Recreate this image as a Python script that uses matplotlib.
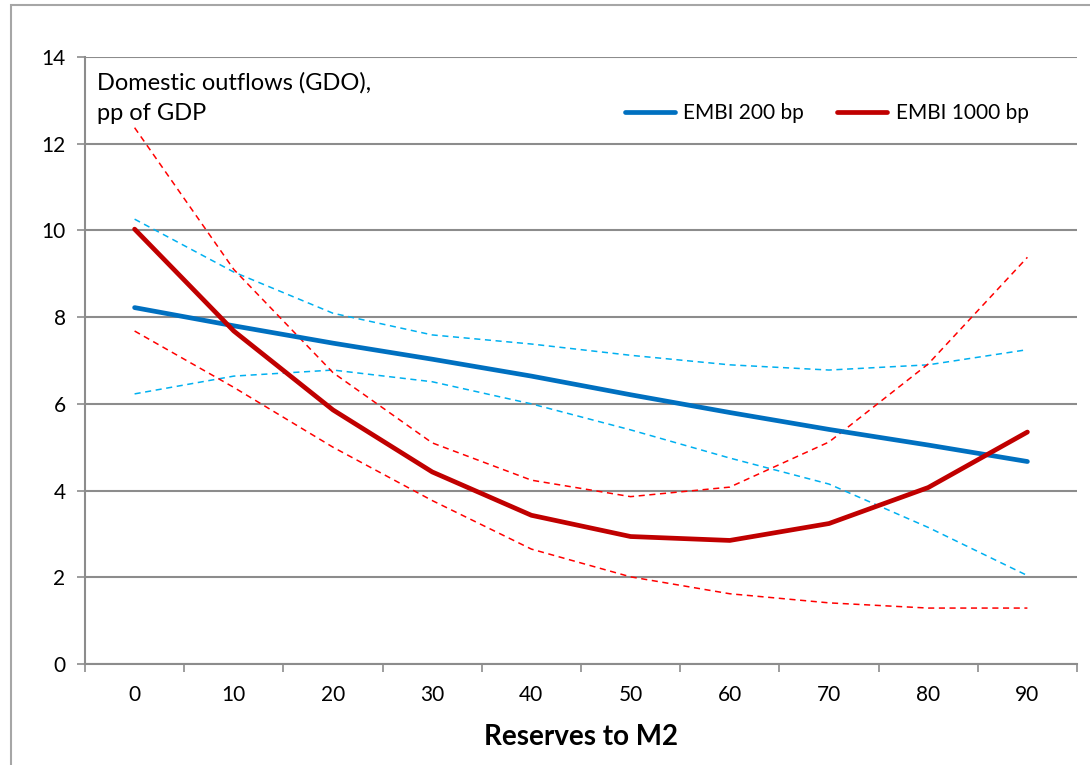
import numpy as np
import matplotlib.pyplot as plt
from matplotlib.patches import Rectangle

# Data
reserves = [0, 10, 20, 30, 40, 50, 60, 70, 80, 90]
embi200 = [8.22, 7.80, 7.40, 7.03, 6.64, 6.21, 5.80, 5.41, 5.05, 4.67]
embi200_hi = [10.26, 9.04, 8.09, 7.59, 7.38, 7.12, 6.90, 6.78, 6.90, 7.25]
embi200_lo = [6.23, 6.64, 6.78, 6.51, 6.00, 5.40, 4.75, 4.15, 3.15, 2.04]
embi1000 = [10.03, 7.68, 5.86, 4.43, 3.43, 2.94, 2.85, 3.24, 4.07, 5.35]
embi1000_hi = [12.37, 9.10, 6.72, 5.10, 4.24, 3.86, 4.08, 5.12, 6.92, 9.38]
embi1000_lo = [7.68, 6.38, 5.00, 3.77, 2.65, 2.01, 1.62, 1.41, 1.29, 1.29]

plt.rcParams['font.family'] = ['Lato', 'DejaVu Sans']

fig = plt.figure(figsize=(10.9, 7.65), dpi=100)
ax = fig.add_axes([85 / 1090, 1 - 664 / 765, (1077 - 85) / 1090, (664 - 57) / 765])

# outer chart border
fig.patches.append(Rectangle((11 / 1090, -0.1), 1.2, 1 - 5 / 765 + 0.1, transform=fig.transFigure,
                             fill=False, edgecolor='#a6a6a6', lw=1.5))

x = np.arange(len(reserves))

ax.plot(x, embi200_hi, color='#00B0F0', lw=1.1, ls=(0, (4, 3)))
ax.plot(x, embi200_lo, color='#00B0F0', lw=1.1, ls=(0, (4, 3)))
ax.plot(x, embi1000_hi, color='#FF0000', lw=1.1, ls=(0, (4, 3)))
ax.plot(x, embi1000_lo, color='#FF0000', lw=1.1, ls=(0, (4, 3)))
ax.plot(x, embi200, color='#0070C0', lw=3.4, solid_capstyle='round', label='EMBI 200 bp')
ax.plot(x, embi1000, color='#C00000', lw=3.4, solid_capstyle='round', label='EMBI 1000 bp')

ax.set_xlim(-0.5, len(reserves) - 0.5)
ax.set_ylim(0, 14)
ax.set_yticks(np.arange(0, 15, 2))
ax.set_xticks(x)
ax.set_xticklabels([str(r) for r in reserves])
ax.set_xticks(np.arange(-0.5, len(reserves)), minor=True)
ax.tick_params(axis='x', which='major', length=0, pad=15, labelsize=15)
ax.tick_params(axis='x', which='minor', length=6, color='#8c8c8c', width=1.2)
ax.tick_params(axis='y', length=6, color='#8c8c8c', width=1.2, labelsize=15, pad=8)

ax.grid(axis='y', color='#8c8c8c', lw=1.5)
ax.set_axisbelow(True)
for s in ['top', 'right']:
    ax.spines[s].set_visible(False)
for s in ['left', 'bottom']:
    ax.spines[s].set_color('#8c8c8c')
    ax.spines[s].set_linewidth(1.5)

ax.set_xlabel('Reserves to M2', fontsize=20, fontweight='bold', labelpad=14)
ax.text(0.012, 0.975, 'Domestic outflows (GDO),\npp of GDP', transform=ax.transAxes,
        fontsize=17, va='top', ha='left', linespacing=1.55)

ax.legend(loc='upper right', bbox_to_anchor=(0.97, 0.955), ncol=2, frameon=False,
          fontsize=15, handlelength=2.4, columnspacing=1.6, handletextpad=0.4)

fig.savefig('out.png', dpi=100)
